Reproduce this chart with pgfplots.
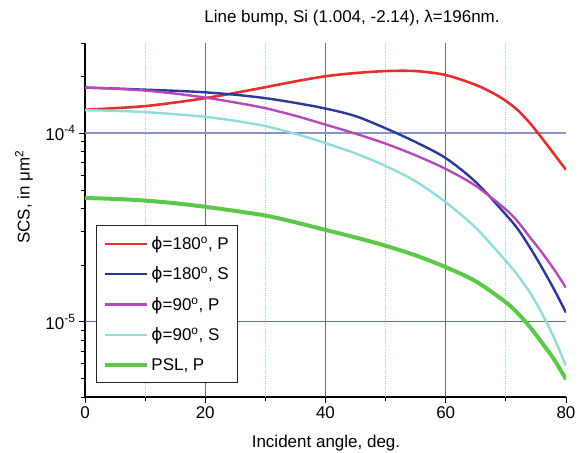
\documentclass[border=0pt]{standalone}
\usepackage{pgfplots}
\pgfplotsset{compat=1.18}
\usepackage{fontspec}
\setmainfont{Liberation Sans}
\newfontfamily\dejavu{DejaVu Sans}
\definecolor{cred}{HTML}{E3302A}
\definecolor{cblue}{HTML}{2B3896}
\definecolor{cmag}{HTML}{B848B8}
\definecolor{ccyan}{HTML}{8FDDD8}
\definecolor{cgreen}{HTML}{5CC84A}
\definecolor{gridblue}{HTML}{5A64C8}
\definecolor{gridblue2}{HTML}{8C90C8}
\definecolor{gridcyan}{HTML}{7FE0E0}
\begin{document}
\begin{tikzpicture}[font=\fontsize{17}{20}\selectfont]
\begin{axis}[
  scale only axis, width=481pt, height=354pt,
  xmin=0, xmax=80, ymode=log, ymin=4e-6, ymax=3e-4,
  axis x line*=bottom, axis y line*=left,
  axis line style={black, line width=1.2pt},
  xtick={0,20,40,60,80}, xticklabels={0,20,40,60,80},
  minor xtick={10,30,50,70},
  ytick={1e-5,1e-4}, yticklabels={10\textsuperscript{-5},10\textsuperscript{-4}},
  minor ytick={4e-6,5e-6,6e-6,7e-6,8e-6,9e-6,2e-5,3e-5,4e-5,5e-5,6e-5,7e-5,8e-5,9e-5,2e-4,3e-4},
  tick align=outside, major tick length=6pt, minor tick length=4pt,
  tick style={black, line width=0.8pt},
  legend cell align=left,
  legend style={at={(0.0229,0.0395)}, anchor=south west, draw=black!85, line width=0.8pt,
    row sep=12pt, inner xsep=7pt, inner ysep=9pt, font=\fontsize{17}{20}\selectfont},
  legend image code/.code={\draw[#1] (0pt,0pt) -- (42pt,0pt);},
]
% grid
\draw[gridcyan, dash pattern=on 1pt off 1.2pt, line width=1pt] (axis cs:10,4e-6) -- (axis cs:10,3e-4);
\draw[gridcyan, dash pattern=on 1pt off 1.2pt, line width=1pt] (axis cs:30,4e-6) -- (axis cs:30,3e-4);
\draw[gridcyan, dash pattern=on 1pt off 1.2pt, line width=1pt] (axis cs:50,4e-6) -- (axis cs:50,3e-4);
\draw[gridcyan, dash pattern=on 1pt off 1.2pt, line width=1pt] (axis cs:70,4e-6) -- (axis cs:70,3e-4);
\draw[gridblue, line width=1pt] (axis cs:20,4e-6) -- (axis cs:20,3e-4);
\draw[gridblue, line width=1pt] (axis cs:40,4e-6) -- (axis cs:40,3e-4);
\draw[gridblue, line width=1pt] (axis cs:60,4e-6) -- (axis cs:60,3e-4);
\draw[gridblue2, line width=1.8pt] (axis cs:0,1e-4) -- (axis cs:80,1e-4);
\draw[gridblue, line width=1pt] (axis cs:0,1e-5) -- (axis cs:80,1e-5);

\addplot[cred, line width=2.6pt, smooth] coordinates {
(0,1.33e-4) (5,1.355e-4) (10,1.39e-4) (15,1.452e-4) (20,1.531e-4) (25,1.633e-4) (30,1.750e-4)
(35,1.879e-4) (40,2.00e-4) (45,2.08e-4) (50,2.13e-4) (55,2.13e-4) (60,2.03e-4) (65,1.80e-4)
(68,1.62e-4) (70,1.48e-4) (72,1.32e-4) (74,1.13e-4) (76,9.4e-5) (78,7.76e-5) (80,6.39e-5)};
\addlegendentry{{\dejavu ϕ}=180\textsuperscript{o}, P}
\addplot[cblue, line width=2.4pt, smooth] coordinates {
(0,1.742e-4) (5,1.722e-4) (10,1.698e-4) (15,1.675e-4) (20,1.644e-4) (25,1.596e-4) (30,1.531e-4)
(35,1.445e-4) (40,1.349e-4) (45,1.23e-4) (50,1.06e-4) (55,8.96e-5) (60,7.37e-5) (65,5.5e-5)
(70,3.7e-5) (72,3.10e-5) (74,2.48e-5) (76,1.94e-5) (78,1.49e-5) (80,1.12e-5)};
\addlegendentry{{\dejavu ϕ}=180\textsuperscript{o}, S}
\addplot[cmag, line width=2.4pt, smooth] coordinates {
(0,1.742e-4) (5,1.718e-4) (10,1.679e-4) (15,1.618e-4) (20,1.542e-4) (25,1.452e-4) (30,1.355e-4)
(35,1.235e-4) (40,1.109e-4) (45,9.93e-5) (50,8.79e-5) (55,7.62e-5) (60,6.46e-5) (65,5.25e-5)
(70,3.94e-5) (72,3.39e-5) (74,2.81e-5) (76,2.33e-5) (78,1.90e-5) (80,1.52e-5)};
\addlegendentry{{\dejavu ϕ}=90\textsuperscript{o}, P}
\addplot[ccyan, line width=2.4pt, smooth] coordinates {
(0,1.321e-4) (5,1.312e-4) (10,1.291e-4) (15,1.259e-4) (20,1.219e-4) (25,1.161e-4) (30,1.089e-4)
(35,9.91e-5) (40,8.85e-5) (45,7.80e-5) (50,6.70e-5) (55,5.55e-5) (60,4.30e-5) (65,3.15e-5)
(70,2.10e-5) (72,1.76e-5) (74,1.43e-5) (76,1.11e-5) (78,8.26e-6) (80,5.84e-6)};
\addlegendentry{{\dejavu ϕ}=90\textsuperscript{o}, S}
\addplot[cgreen, line width=4pt, smooth] coordinates {
(0,4.53e-5) (5,4.48e-5) (10,4.39e-5) (15,4.25e-5) (20,4.07e-5) (25,3.87e-5) (30,3.66e-5)
(35,3.37e-5) (40,3.07e-5) (45,2.80e-5) (50,2.53e-5) (55,2.25e-5) (60,1.95e-5) (65,1.64e-5)
(70,1.27e-5) (72,1.11e-5) (74,9.4e-6) (76,7.76e-6) (78,6.34e-6) (80,4.97e-6)};
\addlegendentry{PSL, P}
\end{axis}
\node[anchor=base] at ([shift={(267pt,374pt)}]current axis.south west) {Line bump, Si (1.004, -2.14), λ=196nm.};
\node[anchor=base] at ([shift={(241pt,-50pt)}]current axis.south west) {Incident angle, deg.};
\node[rotate=90] at ([shift={(-61pt,200pt)}]current axis.south west) {SCS, in μm\textsuperscript{2}};
\pgfresetboundingbox
\path ([shift={(-85pt,-55pt)}]current axis.south west) rectangle ([shift={(495pt,397pt)}]current axis.south west);
\end{tikzpicture}
\end{document}
